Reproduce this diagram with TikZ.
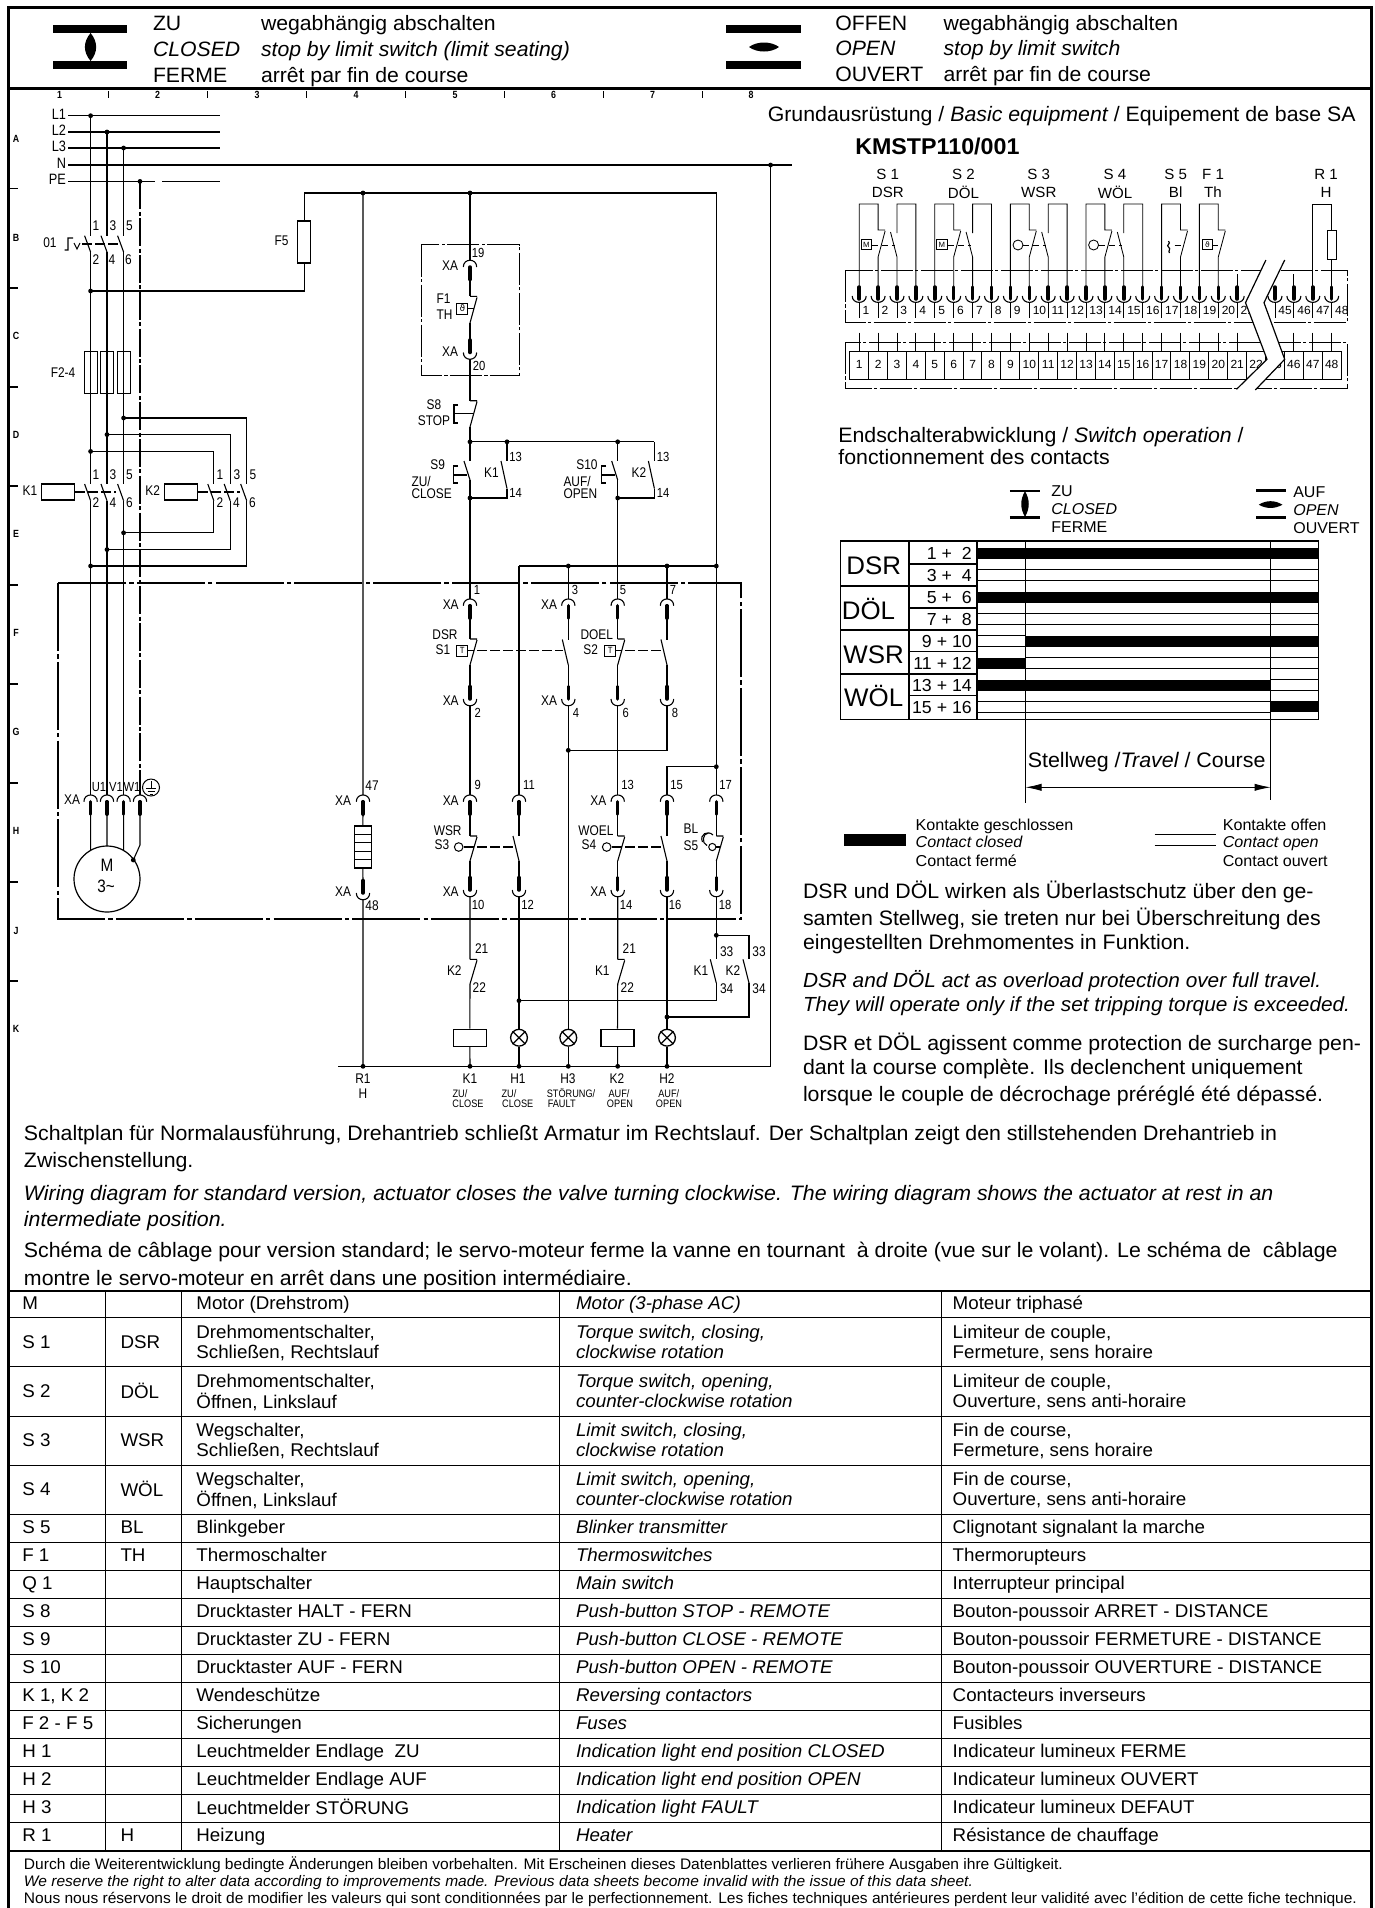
\documentclass[tikz,border=0pt]{standalone}
\usepackage{fontspec}
\usetikzlibrary{arrows.meta}
\setmainfont[FakeStretch=1.02]{Liberation Sans}
\newfontfamily\iso[FakeStretch=.85]{Liberation Sans}
\newfontfamily\symb{DejaVu Sans}
\newcommand\fz[1]{\fontsize{#1}{#1}\selectfont}
\newcounter{tn}
\newcommand\tx[5]{\stepcounter{tn}\node[lab,yshift=-1.25pt,anchor=#3,font=#4] (t\arabic{tn}) at (#1,#2) {\rule[-.25em]{0pt}{.97em}#5};}
\newcommand\ti[5]{\stepcounter{tn}\node[lab,anchor=#3,font=#4] (t\arabic{tn}) at (#1,#2) {\rule[-.25em]{0pt}{.97em}#5};}
\newcommand\isol[4]{\ti{#1}{#2}{#3}{\iso\fz{7}}{#4}}
\newcommand\termT[3]{\coordinate (#1) at (#2,#3-6.7);\coordinate (#1-p) at (#2,#3+12.5);
 \draw[wire] (#2-6.7,#3) .. controls (#2-6.7,#3-9) and (#2+6.7,#3-9) .. (#2+6.7,#3);
 \draw[pin] (#2,#3) -- (#2,#3+12.5);}
\newcommand\termB[3]{\coordinate (#1) at (#2,#3+6.7);\coordinate (#1-p) at (#2,#3-12.5);
 \draw[wire] (#2-6.7,#3) .. controls (#2-6.7,#3+9) and (#2+6.7,#3+9) .. (#2+6.7,#3);
 \draw[pin] (#2,#3-12.5) -- (#2,#3);}
% closed contact: hook and blade
\newcommand\ncc[4]{\coordinate (#1-t) at (#2,#3);\coordinate (#1-b) at (#2,#4);\coordinate (#1-m) at (#2+3.5,#3+12);
 \draw[wire] (#1-t) -- (#2+7,#3) (#2+7,#3+1) -- (#1-b);}
% open contact: blade only
\newcommand\noc[4]{\coordinate (#1-t) at (#2,#3);\coordinate (#1-b) at (#2,#4);\coordinate (#1-m) at (#2-3,#3+12);
 \draw[wire] (#2-6,#3) -- (#1-b);}
\newcommand\jdot[3]{\coordinate (#1) at (#2,#3);\fill (#1) circle[radius=1.2pt];}
% table rows
\newcommand\rowA[6]{\tx{22.3}{#1}{west}{\fz{9.2}}{#2}\tx{120.5}{#1}{west}{\fz{9.2}}{#3}\tx{196.4}{#1}{west}{\fz{9.2}}{#4}\tx{576}{#1}{west}{\itshape\fz{9.2}}{#5}\tx{952.7}{#1}{west}{\fz{9.2}}{#6}}
\newcommand\rowB[9]{\tx{22.3}{#1}{west}{\fz{9.2}}{#2}\tx{120.5}{#1}{west}{\fz{9.2}}{#3}%
 \tx{196.4}{#1-10}{west}{\fz{9.2}}{#4}\tx{196.4}{#1+10}{west}{\fz{9.2}}{#5}%
 \tx{576}{#1-10}{west}{\itshape\fz{9.2}}{#6}\tx{576}{#1+10}{west}{\itshape\fz{9.2}}{#7}%
 \tx{952.7}{#1-10}{west}{\fz{9.2}}{#8}\tx{952.7}{#1+10}{west}{\fz{9.2}}{#9}}
% terminal strip: x position of slot
\newcommand\slotx[1]{\pgfmathsetmacro\sx{859.2+18.9*(#1-1)}}
% switch of terminal diagram with four terminals
\newcommand\swgroup[1]{%
 \pgfmathsetmacro\xA{859.2+18.9*(#1-1)}\pgfmathsetmacro\xB{\xA+18.9}\pgfmathsetmacro\xC{\xA+37.8}\pgfmathsetmacro\xD{\xA+56.7}
 \draw[thinw] (\xA,287) -- (\xA,204) -- (\xB,204) -- (\xB,230) -- (\xB+7,230) (\xB+7,231) -- (\xB,257) -- (\xB,287);
 \draw[thinw] (\xC,287) -- (\xC,257) -- (\xC-6.5,232) (\xC,233) -- (\xC,204) -- (\xD,204) -- (\xD,287);
 \draw[thinw,dashed,dash pattern=on 3pt off 2pt] (\xA+13,245) -- (\xC-2,245);}
\newcommand\swtwo[1]{%
 \pgfmathsetmacro\xA{859.2+18.9*(#1-1)}\pgfmathsetmacro\xB{\xA+18.9}
 \draw[thinw] (\xA,287) -- (\xA,204) -- (\xB,204) -- (\xB,230) -- (\xB+7,230) (\xB+7,231) -- (\xB,257) -- (\xB,287);
 \draw[thinw,dashed,dash pattern=on 3pt off 2pt] (\xA+13,245) -- (\xB+3,245);}
\tikzset{
 lab/.style={inner sep=0pt,outer sep=0pt,text=black},
 wire/.style={line width=.55pt,black},
 thinw/.style={line width=.42pt,black},
 pin/.style={line width=1.75pt,line cap=round,black},
 frame/.style={line width=1.3pt,black},
 grid/.style={line width=.55pt,black},
 dashdot/.style={line width=.6pt,dash pattern=on 34pt off 1.6pt on 2.2pt off 1.6pt,black},
 dashdots/.style={line width=.5pt,dash pattern=on 16pt off 1.2pt on 1.6pt off 1.2pt,black},
 link/.style={line width=.6pt,dash pattern=on 5pt off 1.5pt,black},
}
\begin{document}
\begin{tikzpicture}[x=.5pt,y=-.5pt]
\useasboundingbox (0,0) rectangle (1375,1908);
\fill[white] (0,0) rectangle (1375,1908);
% ---------- frame (open at the cut bottom edge)
\coordinate (fBL) at (8.7,1908);\coordinate (fTL) at (8.7,7.5);\coordinate (fTR) at (1371.5,7.5);\coordinate (fBR) at (1371.5,1908);
\draw[frame] (fBL) -- (fTL) -- (fTR) -- (fBR);
\coordinate (hL) at (8.7,88.5);\coordinate (hR) at (1371.5,88.5);
\draw[frame] (hL) -- (hR);
% ---------- header
\fill (53,25) rectangle (127,33);\fill (53,61) rectangle (127,69);
\fill (90.6,33) .. controls (83,42) and (83,52) .. (90.6,61) .. controls (98,52) and (98,42) .. (90.6,33);
\fill (726,25) rectangle (801,33);\fill (726,61) rectangle (801,69);
\fill (749,47) .. controls (757,41) and (771,41) .. (779,47) .. controls (771,53) and (757,53) .. (749,47);
\tx{153}{23}{west}{\fz{10.4}}{ZU}\tx{261}{23}{west}{\fz{10.4}}{wegabhängig abschalten}
\tx{153}{49}{west}{\itshape\fz{10.4}}{CLOSED}\tx{261}{49}{west}{\itshape\fz{10.4}}{stop by limit switch (limit seating)}
\tx{153}{75}{west}{\fz{10.4}}{FERME}\tx{261}{75}{west}{\fz{10.4}}{arrêt par fin de course}
\tx{835.3}{23}{west}{\fz{10.4}}{OFFEN}\tx{943.5}{23}{west}{\fz{10.4}}{wegabhängig abschalten}
\tx{835.3}{48}{west}{\itshape\fz{10.4}}{OPEN}\tx{943.5}{48}{west}{\itshape\fz{10.4}}{stop by limit switch}
\tx{835.3}{74}{west}{\fz{10.4}}{OUVERT}\tx{943.5}{74}{west}{\fz{10.4}}{arrêt par fin de course}
% ---------- grid references
\foreach \xx in {108.6,207.5,306.4,405.7,504.6,603.5,702.4}{\draw[grid] (\xx,91) -- (\xx,98);}
\foreach \xx/\nn in {59.6/1,157.5/2,257/3,356/4,455/5,553.6/6,652.5/7,751/8}{\ti{\xx}{96}{center}{\iso\bfseries\fz{5.2}}{\nn}}
\foreach \yy in {188.6,288,387,486,585,684,783,882,981}{\draw[grid] (9,\yy) -- (18,\yy);}
\foreach \yy/\nn in {140/A,238.6/B,337.5/C,436.4/D,535/E,634/F,733.5/G,832/H,932/J,1030/K}{\ti{16}{\yy}{center}{\iso\bfseries\fz{5.2}}{\nn}}
% ---------- power section
\def\pa{90.6}\def\pb{107}\def\pc{123.6}\def\pe{140}
\foreach \nm/\yy in {L1/115.7,L2/132,L3/148,N/165}{\coordinate (\nm a) at (68,\yy);\ti{66}{\yy}{east}{\iso\fz{7.5}}{\nm}}
\ti{66}{181.4}{east}{\iso\fz{7.5}}{PE}
\coordinate (L1b) at (219.6,115.7);\coordinate (L2b) at (219.6,132);\coordinate (L3b) at (219.6,148);
\coordinate (Nb) at (792,165);
\coordinate (PEa) at (68,181.4);\coordinate (PEg1) at (155,181.4);\coordinate (PEg2) at (162,181.4);\coordinate (PEb) at (219.6,181.4);
\draw[wire] (L1a) -- (L1b) (L2a) -- (L2b) (L3a) -- (L3b) (Na) -- (Nb) (PEa) -- (PEg1) (PEg2) -- (PEb);
\jdot{jL1}{\pa}{115.7}\jdot{jL2}{\pb}{132}\jdot{jL3}{\pc}{148}\jdot{jPE}{\pe}{181.4}
% Q1
\noc{qa}{\pa}{235.7}{252}\noc{qb}{\pb}{235.7}{252}\noc{qc}{\pc}{235.7}{252}
\draw[link] (82,244) -- (118,244);
\draw[wire] (64.5,250) -- (68,250) -- (68,238) -- (73,238) (74,243) -- (77,249) -- (80,243);
\ti{50}{244}{center}{\iso\fz{7}}{01}
\foreach \xx/\nn in {96/1,113/3,129.5/5}{\ti{\xx}{227}{center}{\iso\fz{7}}{\nn}}
\foreach \xx/\nn in {96/2,112/4,128.5/6}{\ti{\xx}{261}{center}{\iso\fz{7}}{\nn}}
% K1, K2 contacts
\noc{kaa}{\pa}{484}{500.7}\noc{kab}{\pb}{484}{500.7}\noc{kac}{\pc}{484}{500.7}
\def\pf{213.8}\def\pg{230.2}\def\ph{246.7}
\noc{kba}{\pf}{484}{500.7}\noc{kbb}{\pg}{484}{500.7}\noc{kbc}{\ph}{484}{500.7}
\foreach \xx/\nn in {96/1,113/3,129.5/5,220/1,237/3,253/5}{\ti{\xx}{476}{center}{\iso\fz{7}}{\nn}}
\foreach \xx/\nn in {96/2,113/4,129.5/6,220/2,236.5/4,252.5/6}{\ti{\xx}{504.6}{center}{\iso\fz{7}}{\nn}}
\node[draw,line width=.6pt,inner sep=0pt,minimum width=16.5pt,minimum height=8pt] (coilA) at (58.15,492) {};
\node[draw,line width=.6pt,inner sep=0pt,minimum width=16.5pt,minimum height=8pt] (coilB) at (181,492) {};
\coordinate (kaE) at (116,492);\coordinate (kbE) at (240,492);
\draw[link] (coilA) -- (kaE);\draw[link] (coilB) -- (kbE);
\ti{30}{492}{center}{\iso\fz{7}}{K1}\ti{152.7}{492}{center}{\iso\fz{7}}{K2}
% fuses
\foreach \nm/\xx in {fa/\pa,fb/\pb,fc/\pc}{\node[draw,line width=.5pt,inner sep=0pt,minimum width=6.5pt,minimum height=20.6pt] (\nm) at (\xx,372.4) {};}
\ti{63}{374}{center}{\iso\fz{7}}{F2-4}
% junctions
\jdot{ja1}{\pc}{418}\jdot{ja2}{\pb}{434.6}\jdot{ja3}{\pa}{451.4}
\jdot{jb1}{\pc}{532.8}\jdot{jb2}{\pb}{549.6}\jdot{jb3}{\pa}{566}
\jdot{jf}{\pa}{291}
% motor terminals
\termT{ma}{\pa}{801.7}\termT{mb}{\pb}{801.7}\termT{mc}{\pc}{801.7}\termT{md}{\pe}{801.7}
\draw[wire] (jL1) -- (qa-t) (qa-b) -- (kaa-t) (kaa-b) -- (ma);
\draw[wire] (jL2) -- (qb-t) (qb-b) -- (kab-t) (kab-b) -- (mb);
\draw[wire] (jL3) -- (qc-t) (qc-b) -- (kac-t) (kac-b) -- (mc);
\draw[wire,dash pattern=on 14pt off 1.2pt on 2pt off 1.2pt] (jPE) -- (md);
\draw[wire] (ja1) -| (kbc-t) (kbc-b) |- (jb3);
\draw[wire] (ja2) -| (kbb-t) (kbb-b) |- (jb2);
\draw[wire] (ja3) -| (kba-t) (kba-b) |- (jb1);
% motor
\node[draw,circle,line width=.6pt,inner sep=0pt,minimum size=33pt] (mot) at (107,879) {};
\coordinate (mA) at (\pa,850);\coordinate (mB) at (\pb,846);\coordinate (mC) at (\pc,850);\coordinate (mD) at (\pe,845);
\jdot{mE}{133.3}{860}
\draw[wire] (ma-p) -- (mA) (mb-p) -- (mB) (mc-p) -- (mC) (md-p) -- (mD) -- (mE);
\ti{107}{867}{center}{\iso\fz{9}}{M}\ti{106}{888.5}{center}{\iso\fz{9}}{3\textasciitilde}
\ti{99}{788}{center}{\iso\fz{6.6}}{U1}\ti{116}{788}{center}{\iso\fz{6.6}}{V1}\ti{132}{788}{center}{\iso\fz{6.6}}{W1}
\isol{72}{801}{center}{XA}
\node[draw,circle,line width=.5pt,inner sep=0pt,minimum size=8.5pt] (earth) at (151,787.5) {};
\draw[line width=.5pt] (151,781) -- (151,788) (146,788) -- (156,788) (147.5,791) -- (154.5,791) (149.5,794) -- (152.5,794);
% dash-dot boxes
\coordinate (bxA) at (58,583);\coordinate (bxB) at (741,919);
\draw[dashdot] (bxA) rectangle (bxB);
\coordinate (bxC) at (421,244.6);\coordinate (bxD) at (519,375.7);
\draw[dashdots] (bxC) rectangle (bxD);
% ---------- control columns
\def\colA{470}\def\colB{519}\def\colC{568.3}\def\colD{617.7}\def\colE{667}\def\colF{716.3}
\coordinate (fuTop) at (304.4,193);\coordinate (rc) at (\colF,193);
\jdot{j1}{363}{193}\jdot{j2}{\colA}{193}
\node[draw,line width=.55pt,inner sep=0pt,minimum width=6.5pt,minimum height=21pt] (F5) at (304.4,242) {};
\ti{281.6}{242}{center}{\iso\fz{7}}{F5}
\draw[wire] (jf) -| (F5.south) (F5.north) -- (fuTop) -- (rc) -- (716.3,566);
% R1 branch
\termT{x47}{363}{801.7}\termB{x48}{363}{893}
\node[draw,line width=.7pt,inner sep=0pt,minimum width=8.5pt,minimum height=21pt] (heat) at (362.8,847) {};
\draw[wire] (354.3,834.5) -- (371.3,834.5) (354.3,842.6) -- (371.3,842.6) (354.3,851.5) -- (371.3,851.5) (354.3,859.6) -- (371.3,859.6);
\jdot{bR}{363}{1066.3}
\draw[wire] (j1) -- (x47) (x47-p) -- (heat.north) (heat.south) -- (x48-p) (x48) -- (bR);
\ti{372}{787}{center}{\iso\fz{7}}{47}\ti{372}{907}{center}{\iso\fz{7}}{48}
\isol{343}{802}{center}{XA}\isol{343}{893}{center}{XA}
% F1
\termT{x19}{\colA}{267}\termB{x20}{\colA}{352.5}
\ncc{cF}{\colA}{296.4}{323}
\draw[wire] (j2) -- (x19) (x19-p) -- (cF-t) (cF-b) -- (x20-p);
\node[draw,line width=.5pt,inner sep=0pt,minimum size=5.5pt] (bF) at (462.3,308.5) {\symb\fz{4.5}ϑ};
\draw[wire] (bF) -- (474,308.5);
\ti{478}{254}{center}{\iso\fz{6.6}}{19}\ti{479}{367}{center}{\iso\fz{6.6}}{20}
\isol{450}{267}{center}{XA}\isol{450}{353.5}{center}{XA}
\isol{443.5}{300}{center}{F1}\isol{444.5}{316}{center}{TH}
% S8
\ncc{cS8}{\colA}{400.7}{427}
\draw[wire] (x20) -- (cS8-t);
\draw[wire] (458,405) -- (454,405) -- (454,423) -- (458,423) (454,413.6) -- (473,413.6);
\isol{434}{406}{center}{S8}\isol{434}{422}{center}{STOP}
\jdot{j3}{\colA}{441.8}\jdot{j4}{507}{441.8}\jdot{j5}{\colD}{441.8}
\coordinate (j6) at (654.4,441.8);
\draw[wire] (cS8-b) -- (j3) -- (j6);
% S9, K1 hold, S10, K2 hold
\noc{cS9}{\colA}{461}{480}\noc{cK1h}{507}{461}{488.6}
\noc{cS10}{\colD}{461}{480}\noc{cK2h}{654.4}{461}{488.6}
\jdot{j7}{\colA}{498}\jdot{j8}{\colD}{498}
\coordinate (hA) at (507,498);\coordinate (hB) at (654.4,498);
\draw[wire] (j3) -- (cS9-t) (cS9-b) -- (j7) (j4) -- (cK1h-t) (cK1h-b) -- (hA) -- (j7);
\draw[wire] (j5) -- (cS10-t) (cS10-b) -- (j8) (j6) -- (cK2h-t) (cK2h-b) -- (hB) -- (j8);
\draw[wire] (458,466) -- (453.7,466) -- (453.7,483) -- (458,483) (453.7,475) -- (467,475);
\draw[wire] (606,466) -- (601.5,466) -- (601.5,483) -- (606,483) (601.5,475) -- (615,475);
\ti{515.7}{458}{center}{\iso\fz{6.6}}{13}\ti{515.7}{494.6}{center}{\iso\fz{6.6}}{14}
\ti{663}{458}{center}{\iso\fz{6.6}}{13}\ti{663}{494.6}{center}{\iso\fz{6.6}}{14}
\isol{491.5}{474}{center}{K1}\isol{639}{474}{center}{K2}
\isol{437.7}{466.4}{center}{S9}\isol{411.5}{483}{west}{ZU/}\isol{411.5}{495}{west}{CLOSE}
\isol{587}{466.4}{center}{S10}\isol{563.5}{483}{west}{AUF/}\isol{563.5}{495}{west}{OPEN}
% row 1
\jdot{j9}{\colC}{566}\jdot{j10}{\colE}{566}\jdot{j11}{\colF}{566}
\coordinate (j12) at (\colB,566);
\draw[wire] (j12) -- (j11);
\termT{x1}{\colA}{605.7}\termT{x3}{\colC}{605.7}\termT{x5}{\colD}{605.7}\termT{x7}{\colE}{605.7}
\termB{x2}{\colA}{699}\termB{x4}{\colC}{699}\termB{x6}{\colD}{699}\termB{x8}{\colE}{699}
\ncc{cA}{\colA}{639}{665}\noc{cB}{\colC}{639.5}{665}\ncc{cC}{\colD}{639}{665}\noc{cD}{\colE}{639.5}{665}
\draw[wire] (j7) -- (x1) (x1-p) -- (cA-t) (cA-b) -- (x2-p);
\draw[wire] (j9) -- (x3) (x3-p) -- (cB-t) (cB-b) -- (x4-p);
\draw[wire] (j8) -- (x5) (x5-p) -- (cC-t) (cC-b) -- (x6-p);
\draw[wire] (j10) -- (x7) (x7-p) -- (cD-t) (cD-b) -- (x8-p);
\foreach \xx/\nn in {477/1,575/3,623/5,673/7}{\ti{\xx}{591}{center}{\iso\fz{6.6}}{\nn}}
\foreach \xx/\nn in {477.7/2,576/4,625.7/6,675/8}{\ti{\xx}{714.3}{center}{\iso\fz{6.6}}{\nn}}
\isol{450.7}{605.7}{center}{XA}\isol{549}{605.7}{center}{XA}\isol{450.7}{701.7}{center}{XA}\isol{549}{701.7}{center}{XA}
\isol{445}{635.7}{center}{DSR}\isol{443}{651}{center}{S1}\isol{596.7}{635.7}{center}{DOEL}\isol{590.7}{651}{center}{S2}
\node[draw,line width=.5pt,inner sep=0pt,minimum size=5.5pt,font=\iso\fz{4.5}] (bA) at (462.2,650.5) {T};
\node[draw,line width=.5pt,inner sep=0pt,minimum size=5.5pt,font=\iso\fz{4.5}] (bB) at (610.2,650.5) {T};
\coordinate (lA) at (563,650.3);\coordinate (lB) at (663.3,650.3);
\draw[wire] (bA) -- (474,650.5) (bB) -- (622,650.5);
\draw[link] (477,650.3) -- (lA);\draw[link] (625,650.3) -- (lB);
% row 2
\jdot{j13}{\colC}{750.3}\jdot{j14}{\colF}{766.7}
\coordinate (n8) at (\colE,750.3);\coordinate (n15) at (\colE,766.7);
\termT{x9}{\colA}{801.7}\termT{x11}{\colB}{801.7}\termT{x13}{\colD}{801.7}\termT{x15}{\colE}{801.7}\termT{x17}{\colF}{801.7}
\termB{x10}{\colA}{890}\termB{x12}{\colB}{890}\termB{x14}{\colD}{890}\termB{x16}{\colE}{890}\termB{x18}{\colF}{890}
\draw[wire] (x8) -- (n8) -- (j13) (x4) -- (j13);
\draw[wire] (x2) -- (x9) (x6) -- (x13) (j12) -- (x11) (j14) -- (n15) -- (x15) (j11) -- (x17);
\ncc{cE}{\colA}{836}{861}\noc{cF2}{\colB}{836}{861}\ncc{cG}{\colD}{836}{861}\noc{cH}{\colE}{836}{861}\ncc{cI}{\colF}{836}{861}
\draw[wire] (x9-p) -- (cE-t) (cE-b) -- (x10-p) (x11-p) -- (cF2-t) (cF2-b) -- (x12-p) (x13-p) -- (cG-t) (cG-b) -- (x14-p) (x15-p) -- (cH-t) (cH-b) -- (x16-p) (x17-p) -- (cI-t) (cI-b) -- (x18-p);
\foreach \xx/\nn in {477.7/9,529/11,627.7/13,676.7/15,725.7/17}{\ti{\xx}{786}{center}{\iso\fz{6.6}}{\nn}}
\foreach \xx/\nn in {478/10,527.7/12,626/14,675/16,725/18}{\ti{\xx}{906.7}{center}{\iso\fz{6.6}}{\nn}}
\isol{450.7}{801.7}{center}{XA}\isol{598.3}{801.7}{center}{XA}\isol{450.7}{893.3}{center}{XA}\isol{598.3}{893.3}{center}{XA}
\isol{447.7}{831.7}{center}{WSR}\isol{442}{846}{center}{S3}\isol{596}{831.7}{center}{WOEL}\isol{589}{846}{center}{S4}\isol{691}{830}{center}{BL}\isol{691}{846.7}{center}{S5}
\node[draw,circle,line width=.5pt,inner sep=0pt,minimum size=4.3pt] (oA) at (458.7,847) {};
\node[draw,circle,line width=.5pt,inner sep=0pt,minimum size=4.3pt] (oB) at (606.7,847) {};
\draw[wire] (702.5,842) .. controls (699,834) and (708,830) .. (713,835);
\draw[wire] (708.3,833) .. controls (703,833) and (701,843) .. (707,845.5);
\node[draw,circle,fill=white,line width=.5pt,inner sep=0pt,minimum size=3.6pt] (oC) at (712.3,847) {};
\coordinate (lC) at (515,847);\coordinate (lD) at (663.3,847);
\draw[wire] (oA) -- (474,847) (oB) -- (622,847) (oC) -- (719.5,847);
\draw[link] (477,847) -- (lC);\draw[link] (625,847) -- (lD);
% below the box
\ncc{cJ}{\colA}{959.3}{984}\ncc{cK}{\colD}{959.3}{984}
\noc{cL}{\colF}{959.3}{983}\noc{cM}{749}{959.3}{983}
\jdot{j15}{\colF}{935.3}\jdot{j16}{\colB}{1000.7}\jdot{j17}{\colE}{1017}
\coordinate (n18) at (749,935.3);\coordinate (n19) at (\colF,1000.7);\coordinate (n20) at (749,1017);
\node[draw,line width=.6pt,inner sep=0pt,minimum width=16.5pt,minimum height=8.5pt] (coilK1) at (469.8,1037.8) {};
\node[draw,line width=.6pt,inner sep=0pt,minimum width=16.5pt,minimum height=8.5pt] (coilK2) at (617.5,1037.8) {};
\foreach \nm/\xx in {lampA/\colB,lampB/\colC,lampC/\colE}{
 \node[draw,circle,line width=.65pt,inner sep=0pt,minimum size=8.4pt] (\nm) at (\xx,1037.7) {};
 \draw[line width=.6pt] (\nm.45) -- (\nm.225) (\nm.135) -- (\nm.315);}
\jdot{bA1}{\colA}{1066.3}\jdot{bA2}{\colB}{1066.3}\jdot{bA3}{\colC}{1066.3}\jdot{bA4}{\colD}{1066.3}\jdot{bA5}{\colE}{1066.3}
\coordinate (bL) at (338,1066.3);\coordinate (bE) at (770.6,1066.3);\jdot{jN}{770.6}{165}
\draw[wire] (bL) -- (bE) -- (jN);
\draw[wire] (x10) -- (cJ-t) (cJ-b) -- (coilK1) (coilK1) -- (bA1);
\draw[wire] (x14) -- (cK-t) (cK-b) -- (coilK2) (coilK2) -- (bA4);
\draw[wire] (x12) -- (lampA) (lampA) -- (bA2);
\draw[wire] (j13) -- (lampB) (lampB) -- (bA3);
\draw[wire] (x16) -- (lampC) (lampC) -- (bA5);
\draw[wire] (x18) -- (cL-t) (cL-b) -- (n19) -- (j16);
\draw[wire] (j15) -- (n18) -- (cM-t) (cM-b) -- (n20) -- (j17);
\isol{481.7}{950}{center}{21}\isol{479.3}{989}{center}{22}\isol{454.3}{971.7}{center}{K2}
\isol{629.3}{950}{center}{21}\isol{627.3}{989}{center}{22}\isol{602.3}{971.7}{center}{K1}
\isol{726.7}{953}{center}{33}\isol{726.7}{990}{center}{34}\isol{701}{972}{center}{K1}\isol{733}{972}{center}{K2}
\isol{759}{953}{center}{33}\isol{759}{990}{center}{34}
\foreach \xx/\nn in {363/R1,470/K1,518/H1,568/H3,617/K2,667/H2}{\ti{\xx}{1080}{center}{\iso\fz{7}}{\nn}}
\isol{363}{1095}{center}{H}
\ti{460}{1094.7}{center}{\iso\fz{5.4}}{ZU/}\ti{509}{1094.7}{center}{\iso\fz{5.4}}{ZU/}\ti{619}{1094.7}{center}{\iso\fz{5.4}}{AUF/}\ti{668.7}{1094.7}{center}{\iso\fz{5.4}}{AUF/}
\ti{571}{1094.7}{center}{\iso\fz{5.4}}{STÖRUNG/}
\foreach \xx/\nn in {468/CLOSE,517.7/CLOSE,561.7/FAULT,620/OPEN,669/OPEN}{\ti{\xx}{1104.7}{center}{\iso\fz{5.4}}{\nn}}
% ---------- right: terminal diagram
\tx{767.8}{114}{west}{\fz{10.45}}{Grundausrüstung / {\itshape Basic equipment} / Equipement de base SA}
\tx{855.3}{147}{west}{\bfseries\fz{11.4}}{KMSTP110/001}
\foreach \xx/\nA/\nB in {887.8/S 1/DSR,963.5/S 2/DÖL,1038.8/S 3/WSR,1115/S 4/WÖL,1175.7/S 5/Bl,1213/F 1/Th,1326/R 1/H}{
 \tx{\xx}{174}{center}{\fz{7.4}}{\nA}\tx{\xx}{191.7}{center}{\fz{7.4}}{\nB}}
% upper/lower dash-dot boxes
\coordinate (tbA) at (845.5,270);\coordinate (tbB) at (1347,322);\coordinate (tbC) at (845.5,342);\coordinate (tbD) at (1347,388);
\draw[dashdots] (tbA) rectangle (tbB);\draw[dashdots] (tbC) rectangle (tbD);
\swgroup{1}\swgroup{5}\swgroup{9}\swgroup{13}\swtwo{17}\swtwo{19}
\foreach \xx/\mm in {861/1,936.6/2}{\node[draw,line width=.4pt,inner sep=0pt,minimum width=5.3pt,minimum height=5.3pt,font=\fz{3.8}] (mb\mm) at (\xx+5.3,244.5) {M};}
\foreach \xx/\mm in {1018/3,1093.6/4}{\node[draw,circle,line width=.42pt,fill=white,inner sep=0pt,minimum size=5pt] (cc\mm) at (\xx,245) {};}
\draw[line width=.6pt] (1168.5,241) .. controls (1171.5,244) and (1165.5,245) .. (1168.5,247) .. controls (1171.5,249) and (1167.5,251) .. (1169.5,253);
\node[draw,line width=.4pt,inner sep=0pt,minimum size=5.3pt,font=\symb\fz{3.8}] (thb) at (1207.5,244.5) {ϑ};
% R1 on terminal
\slotx{25}\let\xP\sx\slotx{26}\let\xQ\sx
\node[draw,line width=.42pt,inner sep=0pt,minimum width=4.6pt,minimum height=14.3pt] (resT) at (\xQ,245) {};
\coordinate (rA) at (\xP,204);\coordinate (rB) at (\xQ,204);\coordinate (rC) at (\xP,287);\coordinate (rD) at (\xQ,287);
\draw[thinw] (rC) -- (rA) -- (rB) -- (resT.north) (resT.south) -- (rD);
\slotx{21}\draw[thinw] (\sx,274) -- (\sx,287);
\slotx{24}\draw[thinw] (\sx,274) -- (\sx,287);
\foreach \ii in {1,...,21,23,24,25,26}{
 \slotx{\ii}
 \draw[wire] (\sx-7,296) .. controls (\sx-7,304.5) and (\sx+7,304.5) .. (\sx+7,296);
 \draw[pin] (\sx,287) -- (\sx,299);
 \draw[thinw] (\sx,302) -- (\sx,318);
 \draw[thinw] (\sx,332.7) -- (\sx,351.7);}
\foreach \ii/\nn in {1/1,2/2,3/3,4/4,5/5,6/6,7/7,8/8,9/9,10/10,11/11,12/12,13/13,14/14,15/15,16/16,17/17,18/18,19/19,20/20,21/21,23/45,24/46,25/47,26/48}{
 \slotx{\ii}\ti{\sx+1.5}{311.7}{west}{\fz{5.9}}{\,\nn}}
\node[draw,line width=.42pt,inner sep=0pt,minimum width=246.1pt,minimum height=13.8pt] (strip) at (1095.5,365.5) {};
\foreach \ii in {1,...,25}{\pgfmathsetmacro\sx{849.6+18.9*\ii}\draw[thinw] (\sx,351.7) -- (\sx,379.3);}
\foreach \ii/\nn in {1/1,2/2,3/3,4/4,5/5,6/6,7/7,8/8,9/9,10/10,11/11,12/12,13/13,14/14,15/15,16/16,17/17,18/18,19/19,20/20,21/21,22/22,23/45,24/46,25/47,26/48}{
 \slotx{\ii}\ti{\sx}{365.7}{center}{\fz{5.9}}{\nn}}
% break
\coordinate (brA) at (1265.9,260);\coordinate (brB) at (1245.5,302.7);\coordinate (brC) at (1267,359.3);\coordinate (brD) at (1236.5,389.3);
\coordinate (brE) at (1284.7,260);\coordinate (brF) at (1264,302.7);\coordinate (brG) at (1284.7,359.3);\coordinate (brH) at (1255.3,390);
\fill[white] (brA) -- (brB) -- (brC) -- (brD) -- (brH) -- (brG) -- (brF) -- (brE) -- cycle;
\draw[line width=.6pt] (brA) -- (brB) -- (brC) -- (brD) (brE) -- (brF) -- (brG) -- (brH);
% ---------- switch operation
\tx{838.4}{435}{west}{\fz{10.45}}{Endschalterabwicklung / {\itshape Switch operation} /}
\tx{838.4}{456.7}{west}{\fz{10.45}}{fonctionnement des contacts}
\draw[line width=1.2pt] (1009.8,491) -- (1040,491) (1009.8,517.3) -- (1040,517.3);
\fill (1025,491) .. controls (1020,500) and (1020,508) .. (1025,517) .. controls (1030,508) and (1030,500) .. (1025,491);
\draw[line width=1.2pt] (1256,490.3) -- (1285.5,490.3) (1256,517.3) -- (1285.5,517.3);
\fill (1258.8,504.7) .. controls (1266,500) and (1275,500) .. (1282.4,504.7) .. controls (1275,509) and (1266,509) .. (1258.8,504.7);
\tx{1051.4}{490.7}{west}{\fz{7.84}}{ZU}\tx{1051.4}{508.7}{west}{\itshape\fz{7.84}}{CLOSED}\tx{1051.4}{526.7}{west}{\fz{7.84}}{FERME}
\tx{1293.3}{491.3}{west}{\fz{7.84}}{AUF}\tx{1293.3}{509.3}{west}{\itshape\fz{7.84}}{OPEN}\tx{1293.3}{527.3}{west}{\fz{7.84}}{OUVERT}
\coordinate (chA) at (840.4,541);\coordinate (chB) at (1318.8,719.3);
\foreach \nm/\xx in {cvA/909,cvB/977}{\coordinate (\nm t) at (\xx,541);\coordinate (\nm b) at (\xx,719.3);\draw[grid] (\nm t) -- (\nm b);}
\foreach \yy in {586,630,674}{\draw[grid] (840.4,\yy) -- (977,\yy);}
\foreach \yy in {564,608,651.7,695.7}{\draw[grid] (909,\yy) -- (977,\yy);}
\coordinate (stA) at (1025,541);\coordinate (stB) at (1025,803.3);\coordinate (stC) at (1270.6,541);\coordinate (stD) at (1270.6,800);
\draw[thinw] (stA) -- (stB) (stC) -- (stD);
\foreach \yy/\xa/\xb/\xc/\xd in {553.3/977/1318.8/0/0,575.3/0/0/977/1318.8,597.3/977/1318.8/0/0,619.3/0/0/977/1318.8,641.3/1025/1318.8/977/1025,663.3/977/1025/1025/1318.8,685.3/977/1270.6/1270.6/1318.8,706.7/1270.6/1318.8/977/1270.6}{
 \ifdim\xa pt>0pt \fill (\xa,\yy-5.7) rectangle (\xb,\yy+5.7); \fi
 \ifdim\xc pt>0pt \draw[grid] (\xc,\yy-5.5) -- (\xd,\yy-5.5) (\xc,\yy+5.5) -- (\xd,\yy+5.5); \fi}
\draw[grid] (chA) rectangle (chB);
\tx{873.7}{565.7}{center}{\fz{12.7}}{DSR}\tx{868.5}{610}{center}{\fz{12.7}}{DÖL}\tx{873.7}{655}{center}{\fz{12.7}}{WSR}\tx{873.7}{696.7}{center}{\fz{12.7}}{WÖL}
\foreach \yy/\nn in {553.3/1 +\ \ 2,575.3/3 +\ \ 4,597.3/5 +\ \ 6,619.3/7 +\ \ 8,641.3/9 + 10,663.3/11 + 12,685.3/13 + 14,706.7/15 + 16}{\tx{971.8}{\yy}{east}{\fz{8.7}}{\nn}}
\tx{1027.8}{760}{west}{\fz{10.5}}{Stellweg /{\itshape Travel} / Course}
\coordinate (arA) at (1025.5,787.3);\coordinate (arB) at (1270.6,787.3);
\draw[thinw,{Latex[length=8pt,width=3.6pt]}-{Latex[length=8pt,width=3.6pt]}] (arA) -- (arB);
\fill (843.5,834.3) rectangle (905.9,845.7);
\draw[grid] (1154.5,834.3) -- (1215.7,834.3) (1154.5,845.3) -- (1215.7,845.3);
\tx{915.7}{824}{west}{\fz{7.9}}{Kontakte geschlossen}\tx{915.7}{841.7}{west}{\itshape\fz{7.9}}{Contact closed}\tx{915.7}{860}{west}{\fz{7.9}}{Contact fermé}
\tx{1222.8}{824}{west}{\fz{7.9}}{Kontakte offen}\tx{1222.8}{841.7}{west}{\itshape\fz{7.9}}{Contact open}\tx{1222.8}{860}{west}{\fz{7.9}}{Contact ouvert}
% ---------- notes
\tx{803}{889.7}{west}{\fz{10.45}}{DSR und DÖL wirken als Überlastschutz über den ge-}
\tx{803}{916.5}{west}{\fz{10.45}}{samten Stellweg, sie treten nur bei Überschreitung des}
\tx{803}{942}{west}{\fz{10.45}}{eingestellten Drehmomentes in Funktion.}
\tx{803}{978.5}{west}{\itshape\fz{10.2}}{DSR and DÖL act as overload protection over full travel.}
\tx{803}{1004}{west}{\itshape\fz{10.2}}{They will operate only if the set tripping torque is exceeded.}
\tx{803}{1041.8}{west}{\fz{10.45}}{DSR et DÖL agissent comme protection de surcharge pen-}
\tx{803}{1067.4}{west}{\fz{10.45}}{dant la course complète. Ils declenchent uniquement}
\tx{803}{1094}{west}{\fz{10.45}}{lorsque le couple de décrochage préréglé été dépassé.}
\tx{24}{1133.5}{west}{\fz{10.45}}{Schaltplan für Normalausführung, Drehantrieb schließt Armatur im Rechtslauf. Der Schaltplan zeigt den stillstehenden Drehantrieb in}
\tx{24}{1160.5}{west}{\fz{10.45}}{Zwischenstellung.}
\tx{24}{1193.5}{west}{\itshape\fz{10.45}}{Wiring diagram for standard version, actuator closes the valve turning clockwise. The wiring diagram shows the actuator at rest in an}
\tx{24}{1219}{west}{\itshape\fz{10.45}}{intermediate position.}
\tx{24}{1250}{west}{\fz{10.45}}{Schéma de câblage pour version standard; le servo-moteur ferme la vanne en tournant\ \ à droite (vue sur le volant). Le schéma de\ \ câblage}
\tx{24}{1277.7}{west}{\fz{10.45}}{montre le servo-moteur en arrêt dans une position intermédiaire.}
% ---------- table
\coordinate (tTL) at (8.7,1290.7);\coordinate (tTR) at (1371.5,1290.7);
\draw[line width=1pt] (tTL) -- (tTR);
\foreach \yy in {1317.7,1366.7,1416,1465,1514,1542.3,1570.3,1598.3,1626.3,1654.3,1682.3,1710.3,1738.3,1766.3,1794.3,1822.3}{\draw[line width=.5pt] (8.7,\yy) -- (1371.5,\yy);}
\draw[line width=.8pt] (8.7,1851) -- (1371.5,1851);
\foreach \xx in {105.4,181.3,559.5,941}{\draw[line width=.5pt] (\xx,1290.7) -- (\xx,1851);}
\rowA{1303}{M}{}{Motor (Drehstrom)}{Motor (3-phase AC)}{Moteur triphasé}
\rowB{1341.5}{S 1}{DSR}{Drehmomentschalter,}{Schließen, Rechtslauf}{Torque switch, closing,}{clockwise rotation}{Limiteur de couple,}{Fermeture, sens horaire}
\rowB{1391}{S 2}{DÖL}{Drehmomentschalter,}{Öffnen, Linkslauf}{Torque switch, opening,}{counter-clockwise rotation}{Limiteur de couple,}{Ouverture, sens anti-horaire}
\rowB{1440}{S 3}{WSR}{Wegschalter,}{Schließen, Rechtslauf}{Limit switch, closing,}{clockwise rotation}{Fin de course,}{Fermeture, sens horaire}
\rowB{1489}{S 4}{WÖL}{Wegschalter,}{Öffnen, Linkslauf}{Limit switch, opening,}{counter-clockwise rotation}{Fin de course,}{Ouverture, sens anti-horaire}
\rowA{1527}{S 5}{BL}{Blinkgeber}{Blinker transmitter}{Clignotant signalant la marche}
\rowA{1555}{F 1}{TH}{Thermoschalter}{Thermoswitches}{Thermorupteurs}
\rowA{1583}{Q 1}{}{Hauptschalter}{Main switch}{Interrupteur principal}
\rowA{1611}{S 8}{}{Drucktaster HALT - FERN}{Push-button STOP - REMOTE}{Bouton-poussoir ARRET - DISTANCE}
\rowA{1639}{S 9}{}{Drucktaster ZU - FERN}{Push-button CLOSE - REMOTE}{Bouton-poussoir FERMETURE - DISTANCE}
\rowA{1667}{S 10}{}{Drucktaster AUF - FERN}{Push-button OPEN - REMOTE}{Bouton-poussoir OUVERTURE - DISTANCE}
\rowA{1695}{K 1, K 2}{}{Wendeschütze}{Reversing contactors}{Contacteurs inverseurs}
\rowA{1723}{F 2 - F 5}{}{Sicherungen}{Fuses}{Fusibles}
\rowA{1751}{H 1}{}{Leuchtmelder Endlage\ \ ZU}{Indication light end position CLOSED}{Indicateur lumineux FERME}
\rowA{1779}{H 2}{}{Leuchtmelder Endlage AUF}{Indication light end position OPEN}{Indicateur lumineux OUVERT}
\rowA{1807}{H 3}{}{Leuchtmelder STÖRUNG}{Indication light FAULT}{Indicateur lumineux DEFAUT}
\rowA{1835}{R 1}{H}{Heizung}{Heater}{Résistance de chauffage}
% ---------- footer
\tx{24}{1862.5}{west}{\fz{7.62}}{Durch die Weiterentwicklung bedingte Änderungen bleiben vorbehalten. Mit Erscheinen dieses Datenblattes verlieren frühere Ausgaben ihre Gültigkeit.}
\tx{24}{1880.5}{west}{\itshape\fz{7.62}}{We reserve the right to alter data according to improvements made. Previous data sheets become invalid with the issue of this data sheet.}
\tx{24}{1897}{west}{\fz{7.62}}{Nous nous réservons le droit de modifier les valeurs qui sont conditionnées par le perfectionnement. Les fiches techniques antérieures perdent leur validité avec l'édition de cette fiche technique.}
\end{tikzpicture}
\end{document}
